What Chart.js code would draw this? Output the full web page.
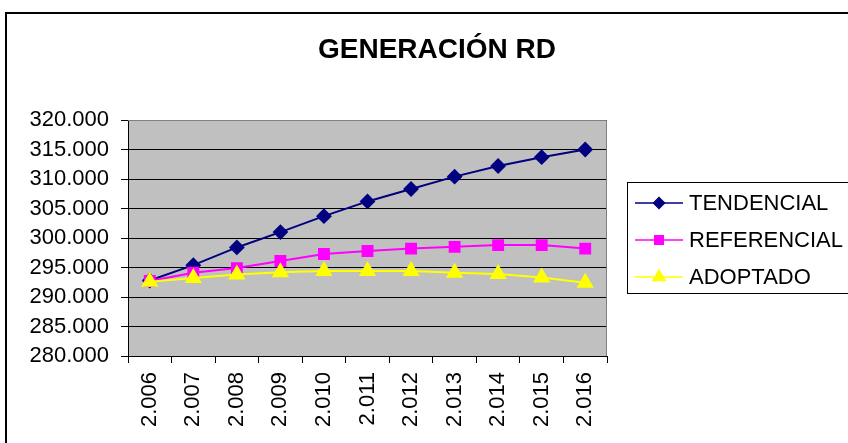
<!DOCTYPE html>
<html>
<head>
<meta charset="utf-8">
<script src="https://cdn.jsdelivr.net/npm/chart.js@4.4.1/dist/chart.umd.min.js"></script>
<style>
  html, body { margin: 0; padding: 0; background: #fff; overflow: hidden; }
  #frame { position: absolute; left: 5px; top: 12px; width: 900px; height: 500px; border: 2px solid #000; }
  #wrap { position: absolute; left: 0; top: 0; width: 848px; height: 443px; }
</style>
</head>
<body>
<div id="frame"></div>
<div id="wrap"><canvas id="generacion"></canvas></div>
<script>
var years = ["2.006", "2.007", "2.008", "2.009", "2.010", "2.011", "2.012", "2.013", "2.014", "2.015", "2.016"];
var tendencial = [292800, 295400, 298400, 301000, 303700, 306200, 308300, 310400, 312200, 313700, 315000];
var referencial = [292700, 294100, 294900, 296100, 297300, 297800, 298200, 298500, 298800, 298800, 298200];
var adoptado = [292600, 293200, 293800, 294200, 294400, 294400, 294400, 294100, 293900, 293300, 292400];
var yTicks = [280000, 285000, 290000, 295000, 300000, 305000, 310000, 315000, 320000];

var FONT = "Arial, 'Liberation Sans', sans-serif";

function miles(v) {
  // 320000 -> "320.000"
  return String(Math.round(v)).replace(/\B(?=(\d{3})+(?!\d))/g, ".");
}

// grey plot background + frame around the plot area
var plotBg = {
  id: 'plotBg',
  beforeDraw: function (chart) {
    var a = chart.chartArea, ctx = chart.ctx;
    ctx.save();
    ctx.fillStyle = "#c0c0c0";
    ctx.fillRect(a.left, a.top, a.right - a.left, a.bottom - a.top);
    ctx.restore();
  },
  afterDatasetsDraw: function (chart) {
    var a = chart.chartArea, ctx = chart.ctx;
    ctx.save();
    ctx.strokeStyle = "#808080";
    ctx.lineWidth = 1;
    ctx.beginPath();
    ctx.moveTo(a.left, a.top + 0.5);
    ctx.lineTo(a.right - 0.5, a.top + 0.5);
    ctx.lineTo(a.right - 0.5, a.bottom);
    ctx.stroke();
    ctx.restore();
  }
};

// title and boxed legend (line + marker) like the original sheet
var titleLegend = {
  id: 'titleLegend',
  afterDraw: function (chart) {
    var ctx = chart.ctx;
    ctx.save();
    ctx.fillStyle = "#000";
    ctx.font = "bold 28px " + FONT;
    ctx.textAlign = "center";
    ctx.textBaseline = "middle";
    ctx.fillText("GENERACIÓN RD", 437, 50);

    ctx.strokeStyle = "#000";
    ctx.lineWidth = 1;
    ctx.strokeRect(627.5, 182.5, 240, 111);

    var rows = [203, 240, 277];
    ctx.font = "22px " + FONT;
    ctx.textAlign = "left";
    chart.data.datasets.forEach(function (ds, i) {
      var y = rows[i];
      ctx.strokeStyle = ds.borderColor;
      ctx.lineWidth = 1.5;
      ctx.beginPath();
      ctx.moveTo(635, y);
      ctx.lineTo(683, y);
      ctx.stroke();
      ctx.fillStyle = ds.backgroundColor;
      ctx.strokeStyle = ds.borderColor;
      Chart.helpers.drawPoint(ctx, { pointStyle: ds.pointStyle, radius: ds.pointRadius - 1, rotation: 0, borderWidth: 1 }, 659, y);
      ctx.fillStyle = "#000";
      ctx.fillText(ds.label, 689, y + 1);
    });
    ctx.restore();
  }
};

new Chart(document.getElementById('generacion').getContext('2d'), {
  type: 'line',
  data: {
    labels: years,
    datasets: [
      {
        label: "TENDENCIAL",
        data: tendencial,
        borderColor: "#000080",
        backgroundColor: "#000080",
        pointStyle: 'rectRot',
        pointRadius: 6.5,
        borderWidth: 2,
        order: 2
      },
      {
        label: "REFERENCIAL",
        data: referencial,
        borderColor: "#ff00ff",
        backgroundColor: "#ff00ff",
        pointStyle: 'rect',
        pointRadius: 7,
        borderWidth: 2,
        order: 1
      },
      {
        label: "ADOPTADO",
        data: adoptado,
        borderColor: "#ffff00",
        backgroundColor: "#ffff00",
        pointStyle: 'triangle',
        pointRadius: 8,
        borderWidth: 2,
        order: 0
      }
    ]
  },
  options: {
    responsive: true,
    maintainAspectRatio: false,
    animation: false,
    layout: { padding: { top: 120, right: 241, left: 0, bottom: 0 } },
    plugins: {
      legend: { display: false },
      title: { display: false },
      tooltip: { enabled: false }
    },
    elements: { line: { tension: 0 }, point: { borderWidth: 1 } },
    scales: {
      x: {
        offset: true,
        afterFit: function (s) { s.height = 87; },
        grid: { offset: true, drawOnChartArea: false, drawTicks: true, tickLength: 7, color: "#000" },
        border: { color: "#000", width: 1 },
        ticks: { color: "#000", font: { family: FONT, size: 22 }, minRotation: 90, maxRotation: 90, padding: 9, autoSkip: false }
      },
      y: {
        min: yTicks[0],
        max: yTicks[yTicks.length - 1],
        afterFit: function (s) { s.width = 128; },
        afterBuildTicks: function (s) { s.ticks = yTicks.map(function (v) { return { value: v }; }); },
        grid: { color: "#000", tickLength: 7, drawTicks: true },
        border: { color: "#000", width: 1 },
        ticks: { color: "#000", font: { family: FONT, size: 22 }, padding: 12, callback: function (v) { return miles(v); } }
      }
    }
  },
  plugins: [plotBg, titleLegend]
});
</script>
</body>
</html>
